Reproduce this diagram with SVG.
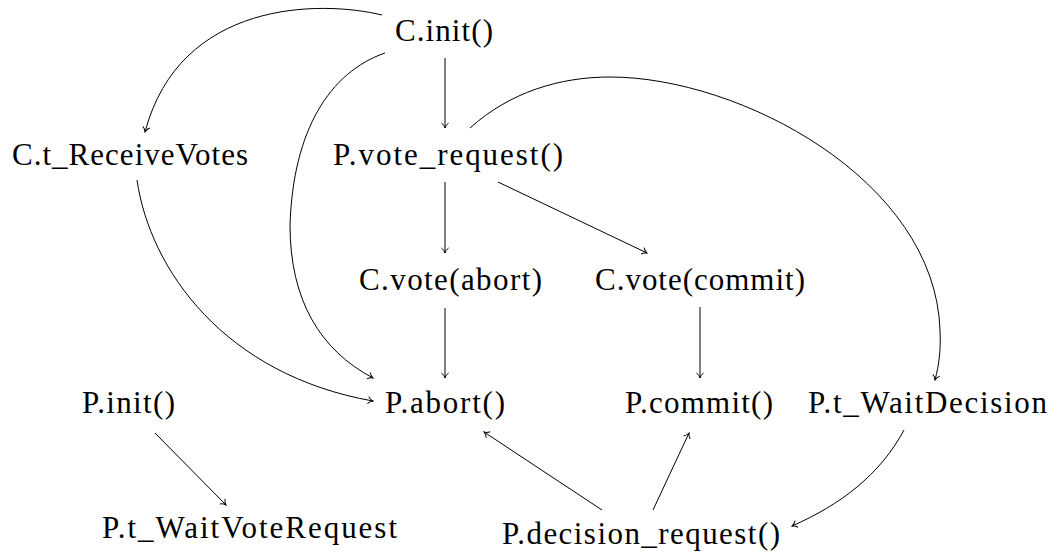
<svg xmlns="http://www.w3.org/2000/svg" width="1058" height="554" viewBox="0 0 1058 554">
  <style>
    .lbl { font-family: 'Liberation Serif', 'Noto Serif', 'DejaVu Serif', Tinos, FreeSerif, Times, 'Times New Roman', serif; font-size: 31px; fill: #000; }
    .edge { fill: none; stroke: #000; stroke-width: 1; marker-end: url(#arr); }
  </style>
  <defs>
    <marker id="arr" markerUnits="userSpaceOnUse" viewBox="-7 -5 8 10" markerWidth="8" markerHeight="10" refX="0" refY="0" orient="auto">
      <path d="M-5,-3.6 C-3.6,-1.6 -1.2,-0.4 0,0 C-1.2,0.4 -3.6,1.6 -5,3.6" fill="none" stroke="#000" stroke-width="1"/>
    </marker>
  </defs>
  <rect width="1058" height="554" fill="#fff"/>

  <g id="n-c-init"><text class="lbl" x="395" y="41" textLength="98" lengthAdjust="spacing">C.init()</text></g>
  <g id="n-c-t-receivevotes"><text class="lbl" x="12" y="165" textLength="236" lengthAdjust="spacing">C.t_ReceiveVotes</text></g>
  <g id="n-p-vote-request"><text class="lbl" x="333" y="165" textLength="230" lengthAdjust="spacing">P.vote_request()</text></g>
  <g id="n-c-vote-abort"><text class="lbl" x="359" y="290" textLength="183" lengthAdjust="spacing">C.vote(abort)</text></g>
  <g id="n-c-vote-commit"><text class="lbl" x="595" y="290" textLength="210" lengthAdjust="spacing">C.vote(commit)</text></g>
  <g id="n-p-init"><text class="lbl" x="82" y="413" textLength="93" lengthAdjust="spacing">P.init()</text></g>
  <g id="n-p-abort"><text class="lbl" x="385" y="413" textLength="120" lengthAdjust="spacing">P.abort()</text></g>
  <g id="n-p-commit"><text class="lbl" x="625" y="413" textLength="148" lengthAdjust="spacing">P.commit()</text></g>
  <g id="n-p-t-waitdecision"><text class="lbl" x="808" y="413" textLength="239" lengthAdjust="spacing">P.t_WaitDecision</text></g>
  <g id="n-p-t-waitvoterequest"><text class="lbl" x="102" y="538" textLength="295" lengthAdjust="spacing">P.t_WaitVoteRequest</text></g>
  <g id="n-p-decision-request"><text class="lbl" x="502" y="544" textLength="278" lengthAdjust="spacing">P.decision_request()</text></g>

  <g id="connectors">
    <path class="edge" d="M382,15 C320,0 180,0 145,132"/>
    <path class="edge" d="M385,53 C330,72 293,130 290,225 C290,300 320,350 373,378"/>
    <path class="edge" d="M137,180 C150,270 225,375 373,401"/>
    <path class="edge" d="M445,58 L445,128"/>
    <path class="edge" d="M445,182 L445,253"/>
    <path class="edge" d="M445,308 L445,378"/>
    <path class="edge" d="M498,182 L647,253"/>
    <path class="edge" d="M700,307 L700,378"/>
    <path class="edge" d="M470,128 C510,92 560,77 610,77 C740,77 935,180 940,330 C941,350 939,365 935,380"/>
    <path class="edge" d="M155,433 L226,505"/>
    <path class="edge" d="M602,510 L484,432"/>
    <path class="edge" d="M653,510 L689,433"/>
    <path class="edge" d="M904,430 C880,475 840,505 792,526"/>
  </g>
</svg>
